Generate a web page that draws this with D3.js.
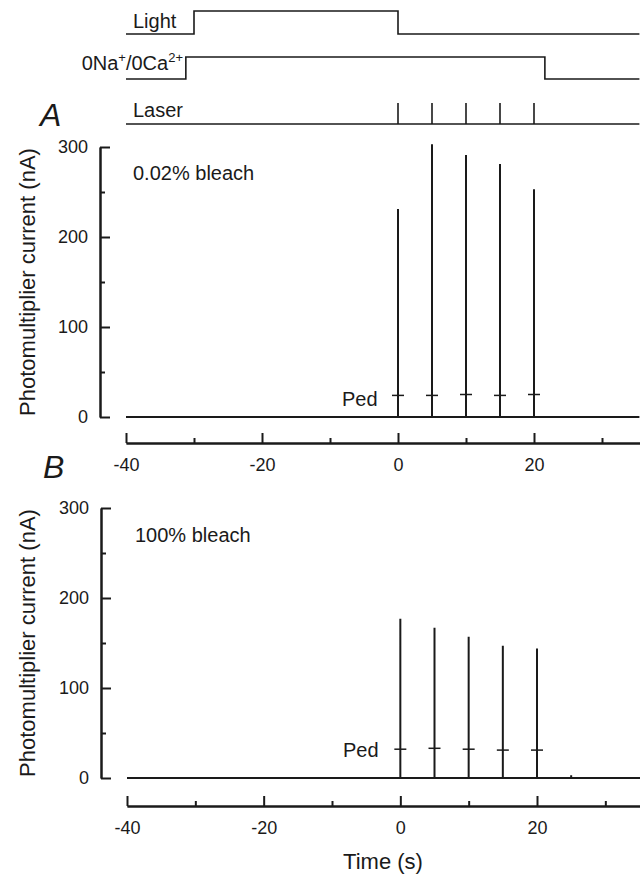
<!DOCTYPE html>
<html>
<head>
<meta charset="utf-8">
<script src="https://cdn.jsdelivr.net/npm/d3@7"></script>
<style>
  body { margin: 0; background: #fff; }
  svg { display: block; font-family: "Liberation Sans", Arial, Helvetica, sans-serif; }
  .axis path, .axis line { stroke: #1a1a1a; stroke-width: 2; }
  .axis text { font-size: 18px; fill: #1a1a1a; font-family: "Liberation Sans", Arial, sans-serif; }
  .trace { fill: none; stroke: #1a1a1a; stroke-width: 2; }
  .step { fill: none; stroke: #1a1a1a; stroke-width: 1.6; }
  .lbl { fill: #1a1a1a; }
</style>
</head>
<body>
<script>
// ---- data ----
const spikeTimes = [0, 5, 10, 15, 20];          // laser flashes (s)
const peaksA = [231, 303, 291, 281, 253];        // nA, 0.02% bleach
const pedA = [24, 24, 25, 24, 25];               // pedestal marks (nA)
const peaksB = [177, 167, 157, 147, 144];        // nA, 100% bleach
const pedB = [32, 33, 32, 31, 31];
const blipB = [[25, 3]];                          // small artefact after last flash
const yTicks = [0, 100, 200, 300];
const yMinor = [50, 150, 250];
const xTicks = [-40, -20, 0, 20];
const xMinor = [-30, -10, 10, 30];
const tStart = -40, tEnd = 35.5;
// protocol traces (time, level 0/1), step after
const lightSteps = [[-40, 0], [-30, 1], [0, 0], [tEnd, 0]];
const solutionSteps = [[-40, 0], [-31.2, 1], [21.6, 0], [tEnd, 0]];

const W = 640, H = 878;
const svg = d3.select("body").append("svg").attr("width", W).attr("height", H);

// time scale for the protocol rows and panel A
const xA = d3.scaleLinear().domain([-40, 20]).range([126, 534]);
const xB = d3.scaleLinear().domain([-40, 20]).range([127, 537]);

/*---------- protocol rows ----------*/
const stepLine = (yS) => d3.line().curve(d3.curveStepAfter).x(d => xA(d[0])).y(d => yS(d[1]));
const yLight = d3.scaleLinear().domain([0, 1]).range([34, 11]);
const ySol = d3.scaleLinear().domain([0, 1]).range([79, 57]);
const yLaser = d3.scaleLinear().domain([0, 1]).range([124, 103]);

svg.append("path").attr("class", "step").attr("d", stepLine(yLight)(lightSteps));
svg.append("path").attr("class", "step").attr("d", stepLine(ySol)(solutionSteps));
svg.append("line").attr("class", "step")
  .attr("x1", xA(tStart)).attr("x2", xA(tEnd)).attr("y1", yLaser(0)).attr("y2", yLaser(0));
svg.selectAll(".laser").data(spikeTimes).enter().append("line")
  .attr("class", "step laser")
  .attr("x1", d => xA(d)).attr("x2", d => xA(d))
  .attr("y1", yLaser(0)).attr("y2", yLaser(1));

svg.append("text").attr("class", "lbl").attr("x", 133).attr("y", 28)
  .style("font-size", "20px").text("Light");
const sol = svg.append("text").attr("class", "lbl").attr("x", 183).attr("y", 70)
  .attr("text-anchor", "end").style("font-size", "20px");
sol.append("tspan").text("0Na");
sol.append("tspan").attr("dy", -8).style("font-size", "13px").text("+");
sol.append("tspan").attr("dy", 8).text("/0Ca");
sol.append("tspan").attr("dy", -8).style("font-size", "13px").text("2+");
svg.append("text").attr("class", "lbl").attr("x", 133).attr("y", 117)
  .style("font-size", "20px").text("Laser");

/*---------- panels ----------*/
function panel(opt) {
  const x = opt.x;
  const y = d3.scaleLinear().domain([0, 300]).range([opt.y0, opt.y0 - 270]);
  const g = svg.append("g");

  // y axis: ticks point inward, labels on the left
  g.append("g").attr("class", "axis")
    .attr("transform", `translate(${opt.yAxisX},0)`)
    .call(d3.axisLeft(y).tickValues(yTicks).tickSize(-10).tickSizeOuter(0).tickPadding(12));
  g.append("g").attr("class", "axis")
    .attr("transform", `translate(${opt.yAxisX},0)`)
    .call(d3.axisLeft(y).tickValues(yMinor).tickSize(-5).tickSizeOuter(0).tickFormat(""));

  // x axis: ticks point up, labels below (plain hyphen minus as in the figure)
  const xAx = d3.scaleLinear().domain([tStart, x.invert(640)]).range([x(tStart), 640]);
  g.append("g").attr("class", "axis")
    .attr("transform", `translate(0,${opt.xAxisY})`)
    .call(d3.axisBottom(xAx).tickValues(xTicks).tickSize(-10).tickSizeOuter(0).tickPadding(15)
      .tickFormat(d => String(d)));
  g.append("g").attr("class", "axis")
    .attr("transform", `translate(0,${opt.xAxisY})`)
    .call(d3.axisBottom(xAx).tickValues(xMinor).tickSize(-5).tickSizeOuter(0).tickFormat(""));

  // current trace: flat baseline with spikes at each flash
  const pts = [[tStart, 0]];
  spikeTimes.forEach((t, i) => { pts.push([t, 0], [t, opt.peaks[i]], [t, 0]); });
  (opt.blips || []).forEach(b => { pts.push([b[0], 0], [b[0], b[1]], [b[0], 0]); });
  pts.push([tEnd, 0]);
  g.append("path").attr("class", "trace")
    .attr("d", d3.line().x(d => x(d[0])).y(d => y(d[1]))(pts));

  // pedestal crosses
  g.selectAll(".ped").data(spikeTimes).enter().append("line")
    .attr("class", "trace ped").style("stroke-width", 1.5)
    .attr("x1", d => x(d) - 6).attr("x2", d => x(d) + 6)
    .attr("y1", (d, i) => y(opt.ped[i])).attr("y2", (d, i) => y(opt.ped[i]));

  g.append("text").attr("class", "lbl").attr("x", opt.pedX).attr("y", opt.pedY)
    .style("font-size", "20px").text("Ped");
  g.append("text").attr("class", "lbl").attr("x", opt.noteX).attr("y", opt.noteY)
    .style("font-size", "20px").text(opt.note);
  g.append("text").attr("class", "lbl").attr("x", opt.letterX).attr("y", opt.letterY)
    .style("font-size", "32px").style("font-style", "italic").text(opt.letter);
  g.append("text").attr("class", "lbl")
    .attr("transform", `translate(35,${(y(0) + y(300)) / 2}) rotate(-90)`)
    .attr("text-anchor", "middle").style("font-size", "22px")
    .text("Photomultiplier current (nA)");
}

panel({ x: xA, y0: 417, yAxisX: 100, xAxisY: 443, peaks: peaksA, ped: pedA,
  pedX: 342, pedY: 406, note: "0.02% bleach", noteX: 133, noteY: 180,
  letter: "A", letterX: 40, letterY: 126 });
panel({ x: xB, y0: 778, yAxisX: 101, xAxisY: 806, peaks: peaksB, ped: pedB, blips: blipB,
  pedX: 343, pedY: 757, note: "100% bleach", noteX: 135, noteY: 542,
  letter: "B", letterX: 43, letterY: 478 });

svg.append("text").attr("class", "lbl").attr("x", 383).attr("y", 869)
  .attr("text-anchor", "middle").style("font-size", "22px").text("Time (s)");
</script>
</body>
</html>
